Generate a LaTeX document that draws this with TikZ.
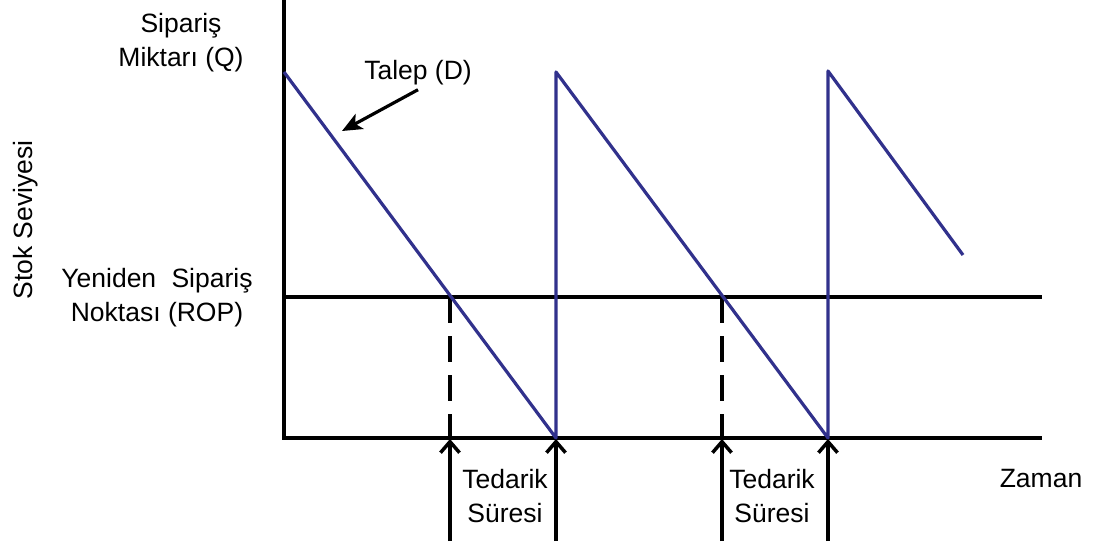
\documentclass[tikz,border=0pt]{standalone}
\usepackage{fontspec}
\setmainfont{Liberation Sans}
\usetikzlibrary{arrows.meta,positioning}
\definecolor{stokblue}{RGB}{49,49,140}
\tikzset{
    >=Stealth,
    axis/.style={line width=3.5pt},
    stock/.style={draw=stokblue, line width=3.2pt, line join=round},
    leadline/.style={line width=3.5pt, dash pattern=on 26pt off 13pt},
    orderarrow/.style={line width=3.5pt, -{Straight Barb[length=11pt,width=19pt]}, shorten >=1pt},
    pointer/.style={line width=3.2pt, -{Stealth[length=20pt,width=17pt,inset=5pt]}},
    lbl/.style={align=center, inner sep=0pt}
}
\begin{document}
\begin{tikzpicture}[x=1pt, y=-1pt, font=\fontsize{26.5}{34}\selectfont]
    \useasboundingbox (0,0) rectangle (1096,543);
    \coordinate (O) at (284,438);
    \coordinate (ytop) at (284,0);
    \coordinate (xend) at (1042,438);
    \coordinate (rop0) at (284,297);
    \coordinate (ropend) at (1042,297);
    \coordinate (q0) at (284,72);
    \coordinate (z1) at (556,438);
    \coordinate (q1) at (556,72);
    \coordinate (z2) at (828,438);
    \coordinate (q2) at (828,71);
    \coordinate (last) at (963,255);
    \coordinate (r1) at (450,297);
    \coordinate (r2) at (722,297);
    \coordinate (a1) at (450,438);
    \coordinate (a2) at (722,438);
    \coordinate (b1) at (450,541);
    \coordinate (b2) at (556,541);
    \coordinate (b3) at (722,541);
    \coordinate (b4) at (828,541);
    \coordinate (th) at (342,131);

    \node[lbl] (qlabel) at (181,43) {Sipariş\\Miktarı (Q)};
    \node[lbl] (roplabel) at (157,298) {Yeniden\hspace{8pt} Sipariş\\Noktası (ROP)};
    \node[lbl, rotate=90] (ylabel) at (26,220) {Stok Seviyesi};
    \node[lbl, anchor=base] (talep) at (418,80) {Talep (D)};
    \node[lbl] (lt1) at (505,496) {Tedarik\\Süresi};
    \node[lbl] (lt2) at (772,496) {Tedarik\\Süresi};
    \node[lbl, anchor=base] (zaman) at (1041,487) {Zaman};

    \draw[axis] (ytop) -- (O) -- (xend);
    \draw[axis] (rop0) -- (ropend);
    \draw[leadline] (r1) -- (a1);
    \draw[leadline] (r2) -- (a2);
    \draw[stock] (q0) -- (z1) -- (q1) -- (z2) -- (q2) -- (last);
    \draw[orderarrow] (b1) -- (a1);
    \draw[orderarrow] (b2) -- (z1);
    \draw[orderarrow] (b3) -- (a2);
    \draw[orderarrow] (b4) -- (z2);
    \draw[pointer] ([yshift=-4pt]talep.south) -- (th);
\end{tikzpicture}
\end{document}
